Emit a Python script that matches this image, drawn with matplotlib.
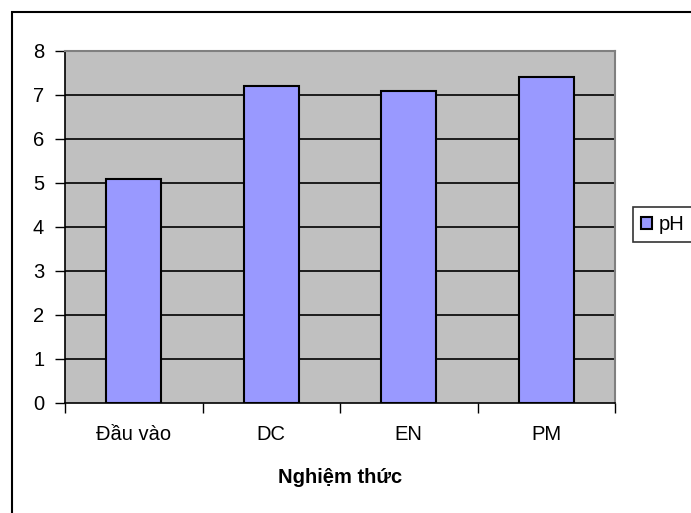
import matplotlib.pyplot as plt
import numpy as np
from matplotlib.patches import Rectangle

plt.rcParams['font.family'] = ['Liberation Sans', 'DejaVu Sans']

categories = ['Đầu vào', 'DC', 'EN', 'PM']
ph_values = [5.1, 7.2, 7.1, 7.4]
y_ticks = [0, 1, 2, 3, 4, 5, 6, 7, 8]

fs = 14.5

fig = plt.figure(figsize=(6.91, 5.13), dpi=100)

# outer chart frame (runs past right and bottom edges like the original)
fig.patches.append(Rectangle((12 / 691, -0.1), 1.2, 1 - 12 / 513 + 0.1,
                             transform=fig.transFigure, fill=False,
                             edgecolor='black', linewidth=1.5, zorder=0))

ax = fig.add_axes([65 / 691, 1 - 403 / 513, 550 / 691, 352 / 513])
ax.set_facecolor('#C0C0C0')

x = np.arange(len(categories))
ax.bar(x, ph_values, width=0.4, color='#9999FF', edgecolor='black',
       linewidth=1.5, zorder=3, label='pH')

ax.set_xlim(-0.5, len(categories) - 0.5)
ax.set_ylim(0, 8)
ax.set_yticks(y_ticks)
ax.tick_params(axis='y', labelsize=fs, length=7, width=1, direction='out', pad=8)
for t in y_ticks[1:]:
    ax.axhline(t, color='black', linewidth=1.2, zorder=1)

# ticks at category boundaries, labels centred
ax.set_xticks(np.arange(-0.5, len(categories), 1.0))
ax.set_xticklabels([])
ax.set_xticks(x, minor=True)
ax.set_xticklabels(categories, minor=True)
ax.tick_params(axis='x', which='major', length=7, width=1, direction='out')
ax.tick_params(axis='x', which='minor', length=0, labelsize=fs, pad=16)

ax.set_xlabel('Nghiệm thức', fontsize=fs, fontweight='bold', labelpad=17)

ax.spines['left'].set_linewidth(1.2)
ax.spines['bottom'].set_linewidth(1.2)
ax.spines['top'].set_color('#808080')
ax.spines['right'].set_color('#808080')
ax.spines['top'].set_linewidth(1.5)
ax.spines['right'].set_linewidth(1.5)

leg = fig.legend(loc='center left', bbox_to_anchor=(633 / 691, 1 - 224.5 / 513),
                 fontsize=fs, frameon=True, fancybox=False, handlelength=0.55,
                 handleheight=0.55, handletextpad=0.35, borderpad=0.4,
                 borderaxespad=0)
leg.get_frame().set_edgecolor('black')
leg.get_frame().set_linewidth(1.2)

fig.savefig('out.png', dpi=100)
